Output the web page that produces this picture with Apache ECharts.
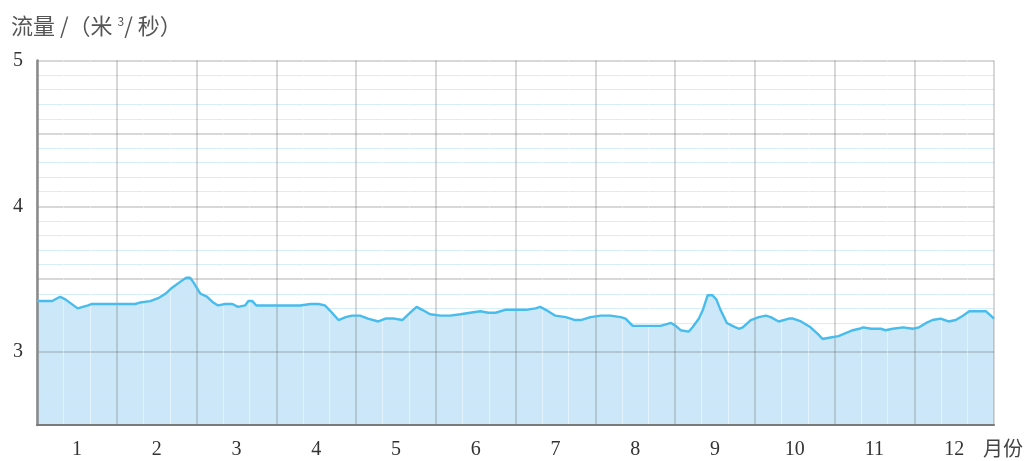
<!DOCTYPE html>
<html>
<head>
<meta charset="utf-8">
<script src="https://cdn.jsdelivr.net/npm/echarts@6/dist/echarts.min.js"></script>
<style>
html,body{margin:0;padding:0;background:#fff;}
#main{width:1027px;height:461px;}
</style>
</head>
<body>
<div id="main"></div>
<script>
// month labels on the x axis
var monthLabels = ['1','2','3','4','5','6','7','8','9','10','11','12'];
// y tick labels shown
var yTickLabels = [3, 4, 5];
// position along the year, in months (0 = start of Jan, 12 = end of Dec)
var months = [0.00,0.19,0.29,0.36,0.51,0.64,0.69,1.04,1.10,1.23,1.29,1.42,1.52,1.61,1.69,1.79,1.87,1.92,1.96,2.05,
  2.13,2.21,2.27,2.36,2.45,2.52,2.61,2.65,2.70,2.75,3.30,3.43,3.53,3.61,3.70,3.78,3.87,3.95,4.05,4.15,
  4.28,4.37,4.43,4.48,4.58,4.68,4.76,4.83,4.93,5.06,5.18,5.31,5.43,5.56,5.66,5.75,5.87,6.00,6.13,6.25,
  6.31,6.38,6.50,6.63,6.75,6.82,6.94,7.07,7.19,7.32,7.38,7.47,7.63,7.82,7.95,8.01,8.07,8.17,8.22,8.30,
  8.35,8.41,8.47,8.52,8.57,8.65,8.72,8.80,8.85,8.95,9.05,9.14,9.20,9.30,9.43,9.48,9.58,9.70,9.80,9.85,
  9.95,10.05,10.14,10.23,10.31,10.36,10.46,10.58,10.64,10.73,10.86,10.98,11.06,11.15,11.23,11.33,11.43,11.52,11.61,11.69,
  11.90,11.96,12.00];
// flow, cubic metres per second
var flow = [3.35,3.35,3.38,3.36,3.30,3.32,3.33,3.33,3.33,3.33,3.34,3.35,3.37,3.40,3.44,3.48,3.51,3.51,3.48,3.40,
  3.38,3.34,3.32,3.33,3.33,3.31,3.32,3.35,3.35,3.32,3.32,3.33,3.33,3.32,3.27,3.22,3.24,3.25,3.25,3.23,
  3.21,3.23,3.23,3.23,3.22,3.27,3.31,3.29,3.26,3.25,3.25,3.26,3.27,3.28,3.27,3.27,3.29,3.29,3.29,3.30,
  3.31,3.29,3.25,3.24,3.22,3.22,3.24,3.25,3.25,3.24,3.23,3.18,3.18,3.18,3.20,3.18,3.15,3.14,3.17,3.23,
  3.29,3.39,3.39,3.36,3.29,3.20,3.18,3.16,3.17,3.22,3.24,3.25,3.24,3.21,3.23,3.23,3.21,3.17,3.12,3.09,
  3.10,3.11,3.13,3.15,3.16,3.17,3.16,3.16,3.15,3.16,3.17,3.16,3.17,3.20,3.22,3.23,3.21,3.22,3.25,3.28,
  3.28,3.25,3.23];

var points = months.map(function (m, i) { return [m, flow[i]]; });

var chart = echarts.init(document.getElementById('main'));
var serif = '"Liberation Serif","DejaVu Serif",serif';
var cjk = '"Noto Sans CJK SC","Noto Sans",sans-serif';

chart.setOption({
  animation: false,
  backgroundColor: '#ffffff',
  title: {
    left: 6,
    top: 10,
    text: '流量 /（米 {sup|3}/ 秒）',
    textStyle: {
      fontFamily: cjk,
      fontSize: 22,
      fontWeight: 'normal',
      color: '#555555',
      rich: {
        sup: { fontSize: 12, verticalAlign: 'top', padding: [0, 0, 10, 0], color: '#555555', fontFamily: cjk }
      }
    }
  },
  grid: { left: 37, right: 33, top: 60.5, bottom: 36, containLabel: false, outerBoundsMode: 'none' },
  xAxis: [
    {
      type: 'value',
      min: 0, max: 12, interval: 1,
      axisLabel: { show: false },
      axisTick: { show: false },
      axisLine: { show: true, onZero: false, lineStyle: { color: '#7a7a7a', width: 2 } },
      splitLine: { show: true, lineStyle: { color: 'rgba(110,110,110,0.36)', width: 1.5 } },
      minorTick: { show: false, splitNumber: 3 },
      minorSplitLine: { show: true, lineStyle: { color: 'rgba(255,255,255,0.45)', width: 1.2 } },
      z: 3
    },
    {
      type: 'category',
      position: 'bottom',
      data: monthLabels,
      boundaryGap: true,
      axisLine: { show: false },
      axisTick: { show: false },
      splitLine: { show: false },
      axisLabel: { fontFamily: serif, fontSize: 20, color: '#333333', margin: 15 },
      name: '月份',
      nameLocation: 'end',
      nameGap: -11,
      nameTextStyle: { fontFamily: cjk, fontSize: 20, color: '#444444', align: 'left', verticalAlign: 'top', padding: [13, 0, 0, 0] }
    }
  ],
  yAxis: {
    type: 'value',
    min: 2.5, max: 5, interval: 0.5,
    axisLine: { show: true, onZero: false, lineStyle: { color: '#8a8a8a', width: 2.5 } },
    axisTick: { show: false },
    axisLabel: {
      fontFamily: serif, fontSize: 20, color: '#333333', margin: 14,
      formatter: function (v) { return yTickLabels.indexOf(Math.round(v * 10) / 10) >= 0 && Math.abs(v - Math.round(v)) < 1e-6 ? String(Math.round(v)) : ''; }
    },
    splitLine: { show: true, lineStyle: { color: 'rgba(110,110,110,0.36)', width: 1.5 } },
    minorTick: { show: false, splitNumber: 5 },
    minorSplitLine: { show: true, lineStyle: { color: 'rgba(200,232,250,0.75)', width: 1.2 } },
    z: 3
  },
  series: [
    {
      type: 'line',
      data: points,
      xAxisIndex: 0,
      showSymbol: false,
      lineStyle: { width: 0, opacity: 0 },
      areaStyle: { color: '#cbe7f8', opacity: 1, origin: 'start' },
      z: 1,
      silent: true
    },
    {
      type: 'line',
      data: points,
      xAxisIndex: 0,
      showSymbol: false,
      lineStyle: { color: '#48bcec', width: 2.4 },
      z: 5
    }
  ]
});
</script>
</body>
</html>
